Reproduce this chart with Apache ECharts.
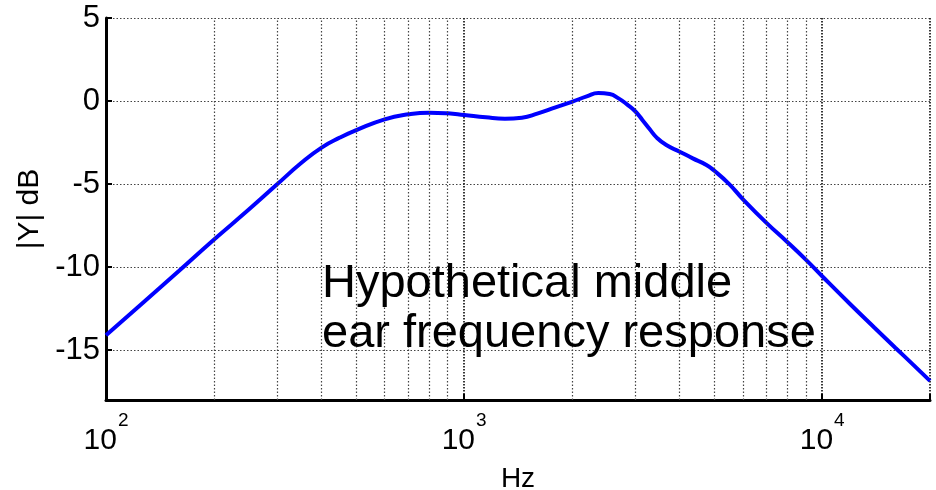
<!DOCTYPE html>
<html>
<head>
<meta charset="utf-8">
<script src="https://cdn.jsdelivr.net/npm/echarts@6/dist/echarts.min.js"></script>
<style>html,body{margin:0;padding:0;background:#fff}#c{width:936px;height:490px}</style>
</head>
<body>
<div id="c"></div>
<script>
// Frequencies (Hz) and magnitude response (dB)
var freqs = [100,125,160,200,250,300,350,400,450,500,600,700,800,900,1000,1150,1300,1450,1600,1800,2000,2200,2370,2550,2700,2850,3000,3150,3300,3450,3670,4000,4350,4750,5000,5500,6000,7000,8000,9000,10000,12000,14000,16000,18000,20000];
var magDb = [-14.1,-12.26,-10.22,-8.35,-6.55,-5.03,-3.75,-2.8,-2.2,-1.75,-1.1,-0.8,-0.7,-0.74,-0.84,-0.98,-1.06,-1.0,-0.76,-0.38,-0.05,0.28,0.48,0.42,0.16,-0.2,-0.6,-1.15,-1.7,-2.2,-2.65,-3.05,-3.45,-3.85,-4.2,-5.0,-5.9,-7.35,-8.5,-9.55,-10.55,-12.25,-13.65,-14.85,-15.9,-16.85];
// Minor log grid positions
var minorFreqs = [200,300,400,500,600,700,800,900,2000,3000,4000,5000,6000,7000,8000,9000];
var xRange = [100, 20000];
var yRange = [-18, 5];
var xName = 'Hz';
var yName = '|Y| dB';
var annotation = 'Hypothetical middle\near frequency response';

var FONT = '"Liberation Sans", Arial, Helvetica, sans-serif';
var chart = echarts.init(document.getElementById('c'), null, {renderer: 'canvas'});
var data = freqs.map(function (f, i) { return [f, magDb[i]]; });
var gridDot = {color: '#444', type: [1.5, 2], width: 1.2};

chart.setOption({
  animation: false,
  backgroundColor: '#fff',
  grid: {left: 106, right: 6, top: 18, bottom: 90, containLabel: false, outerBoundsMode: 'none'},
  xAxis: {
    type: 'log', logBase: 10, min: xRange[0], max: xRange[1],
    name: xName, nameLocation: 'middle', nameGap: 65,
    nameTextStyle: {fontSize: 28, color: '#000', fontFamily: FONT},
    axisLine: {show: true, onZero: false, lineStyle: {color: '#000', width: 3}},
    axisTick: {show: true, inside: true, length: 6, lineStyle: {color: '#000', width: 2}},
    splitLine: {show: true, lineStyle: {color: '#222', type: [1.5, 1.5], width: 1.8}},
    axisLabel: {
      margin: 11, color: '#000', fontFamily: FONT,
      formatter: function (v) {
        var e = Math.log10(v);
        if (Math.abs(e - Math.round(e)) > 1e-6) return '';
        return '{b|10}{s|' + Math.round(e) + '}';
      },
      rich: {
        b: {fontSize: 30, fontFamily: FONT, color: '#000', lineHeight: 60},
        s: {fontSize: 19, fontFamily: FONT, color: '#000', lineHeight: 19, verticalAlign: 'top', padding: [0, 0, 0, 1]}
      }
    }
  },
  yAxis: {
    type: 'value', min: yRange[0], max: yRange[1], splitNumber: 5,
    name: yName, nameLocation: 'middle', nameGap: 57, nameRotate: 90,
    nameTextStyle: {fontSize: 30, color: '#000', fontFamily: FONT},
    axisLine: {show: true, onZero: false, lineStyle: {color: '#000', width: 3}},
    axisTick: {show: true, inside: true, length: 6, lineStyle: {color: '#000', width: 2}},
    splitLine: {show: true, lineStyle: gridDot},
    axisLabel: {
      margin: 6, fontSize: 31, color: '#000', fontFamily: FONT,
      formatter: function (v) { return (Math.round(v) % 5 === 0) ? String(v) : ''; }
    }
  },
  graphic: [{
    type: 'text', x: 322, y: 259, z: 100,
    style: {text: annotation, fontSize: 47, fontFamily: FONT, lineHeight: 50, fill: '#000'}
  }],
  series: [{
    type: 'line', data: data, smooth: 0.5, showSymbol: false, symbol: 'none',
    lineStyle: {color: '#0000ff', width: 4},
    markLine: {
      silent: true, symbol: ['none', 'none'], label: {show: false},
      lineStyle: gridDot, emphasis: {disabled: true},
      data: minorFreqs.map(function (f) { return {xAxis: f}; })
    }
  }]
});
</script>
</body>
</html>
